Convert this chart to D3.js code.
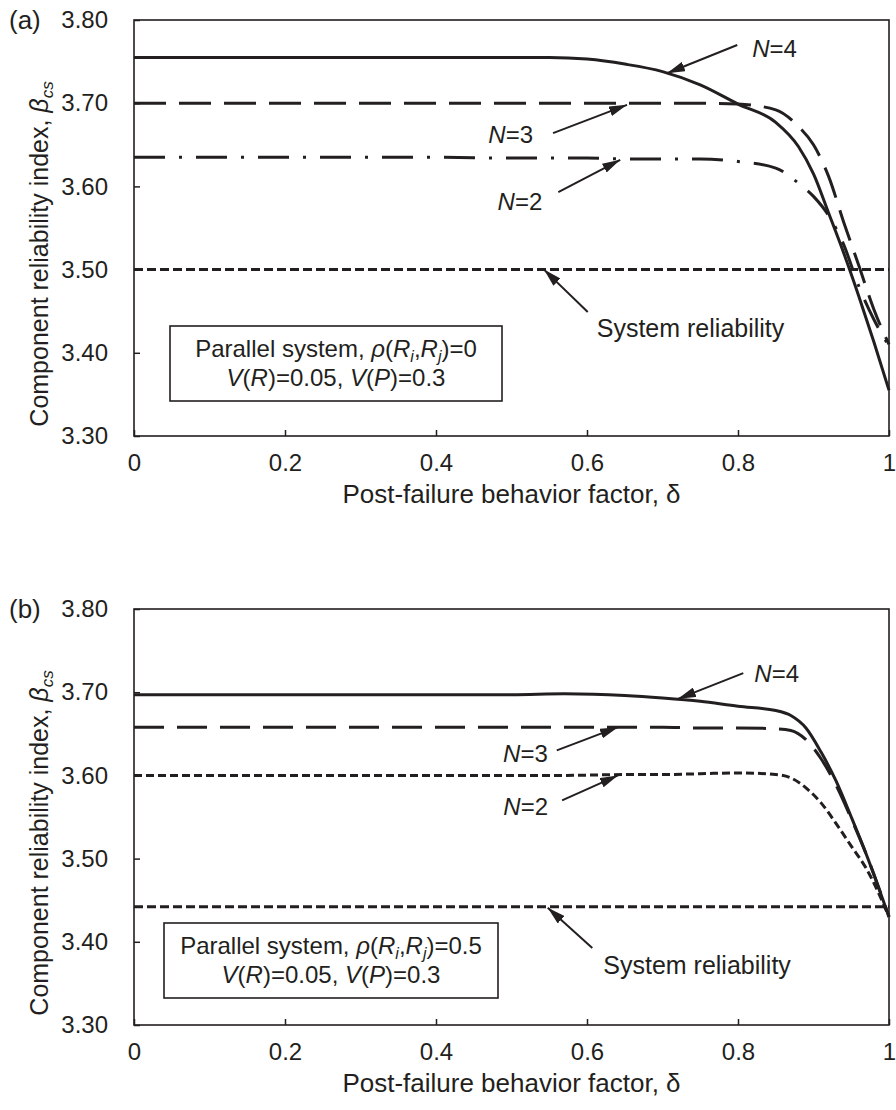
<!DOCTYPE html>
<html>
<head>
<meta charset="utf-8">
<script src="https://cdnjs.cloudflare.com/ajax/libs/d3/7.8.5/d3.min.js"></script>
<style>
    body { margin: 0; background: #fff; }
    svg text { font-family: "Liberation Sans", Arial, sans-serif; fill: #231f20; }
</style>
</head>
<body>
<div class="chart-container"></div>
<script>
// panel (a) - rho = 0
var deltaA = [0, 0.1, 0.2, 0.3, 0.4, 0.5, 0.55, 0.6, 0.65, 0.7, 0.75, 0.8, 0.85, 0.88, 0.9, 0.92, 0.94, 0.96, 0.98, 1];
var n4A = [3.755, 3.755, 3.755, 3.755, 3.755, 3.755, 3.755, 3.753, 3.747, 3.738, 3.722, 3.699, 3.677, 3.648, 3.615, 3.568, 3.52, 3.468, 3.413, 3.355];
var n3A = [3.700, 3.700, 3.700, 3.700, 3.700, 3.700, 3.700, 3.700, 3.700, 3.700, 3.700, 3.699, 3.692, 3.672, 3.650, 3.612, 3.557, 3.505, 3.452, 3.41];
var n2A = [3.635, 3.635, 3.635, 3.635, 3.635, 3.634, 3.634, 3.634, 3.633, 3.633, 3.633, 3.630, 3.622, 3.604, 3.588, 3.565, 3.53, 3.48, 3.44, 3.408];
var systemA = 3.50;

// panel (b) - rho = 0.5
var deltaB = [0, 0.1, 0.2, 0.3, 0.4, 0.5, 0.57, 0.65, 0.7, 0.75, 0.8, 0.85, 0.87, 0.89, 0.91, 0.93, 0.95, 0.97, 1];
var n4B = [3.697, 3.697, 3.697, 3.697, 3.697, 3.697, 3.698, 3.696, 3.693, 3.689, 3.683, 3.678, 3.672, 3.657, 3.628, 3.593, 3.550, 3.505, 3.43];
var n3B = [3.658, 3.658, 3.658, 3.658, 3.658, 3.658, 3.658, 3.658, 3.658, 3.657, 3.657, 3.656, 3.654, 3.643, 3.620, 3.588, 3.548, 3.505, 3.43];
var n2B = [3.600, 3.600, 3.600, 3.600, 3.600, 3.600, 3.600, 3.601, 3.601, 3.602, 3.603, 3.601, 3.597, 3.585, 3.567, 3.542, 3.515, 3.488, 3.43];
var systemB = 3.442;

var xTicks = [0, 0.2, 0.4, 0.6, 0.8, 1];
var xTickLabels = ["0", "0.2", "0.4", "0.6", "0.8", "1"];
var yTicks = [3.3, 3.4, 3.5, 3.6, 3.7, 3.8];
var yTickLabels = ["3.30", "3.40", "3.50", "3.60", "3.70", "3.80"];

var W = 896, H = 1110;
var ink = "#231f20";

var svg = d3.select(".chart-container")
        .append("svg")
        .attr("width", W)
        .attr("height", H);

svg.append("defs").append("marker")
        .attr("id", "arrow")
        .attr("viewBox", "0 0 18 10")
        .attr("refX", 18)
        .attr("refY", 5)
        .attr("markerWidth", 18)
        .attr("markerHeight", 10)
        .attr("markerUnits", "userSpaceOnUse")
        .attr("orient", "auto")
        .append("path")
        .attr("d", "M0,0 L18,5 L0,10 Z")
        .attr("fill", ink);

// italic N=.. label helper
function nLabel(sel, n) {
    sel.append("tspan").style("font-style", "italic").text("N");
    sel.append("tspan").text("=" + n);
}

function drawPanel(top, p) {
    var x = d3.scaleLinear().domain([0, 1]).range([134, 889]);
    var y = d3.scaleLinear().domain([3.3, 3.8]).range([top + 416, top]);
    var g = svg.append("g");

    // curves
    var line = d3.line()
            .x(function (d) { return x(d[0]); })
            .y(function (d) { return y(d[1]); })
            .curve(d3.curveMonotoneX);

    p.series.forEach(function (s) {
        g.append("path")
                .datum(p.delta.map(function (d, i) { return [d, s.values[i]]; }))
                .attr("d", line)
                .attr("fill", "none")
                .attr("stroke", ink)
                .attr("stroke-width", 3)
                .attr("stroke-dasharray", s.dash);
    });

    g.append("path")
            .datum([[0, p.system], [1, p.system]])
            .attr("d", line)
            .attr("fill", "none")
            .attr("stroke", ink)
            .attr("stroke-width", 3)
            .attr("stroke-dasharray", "9,4");

    // axes
    var xAxis = d3.axisBottom(x)
            .tickValues(xTicks)
            .tickFormat(function (d, i) { return xTickLabels[i]; })
            .tickSize(-6)
            .tickPadding(18);
    var gx = g.append("g")
            .attr("transform", "translate(0," + y(3.3) + ")")
            .call(xAxis);

    var yAxis = d3.axisLeft(y)
            .tickValues(yTicks)
            .tickFormat(function (d, i) { return yTickLabels[i]; })
            .tickSize(-6)
            .tickPadding(26);
    var gy = g.append("g")
            .attr("transform", "translate(" + x(0) + ",0)")
            .call(yAxis);

    [gx, gy].forEach(function (a) {
        a.select(".domain").remove();
        a.selectAll(".tick line").attr("stroke", ink).attr("stroke-width", 1.5);
        a.selectAll(".tick text")
                .attr("font-size", 24)
                .style("font-family", "'Liberation Sans', Arial, sans-serif")
                .attr("fill", ink);
    });

    g.append("rect")
            .attr("x", x(0))
            .attr("y", y(3.8))
            .attr("width", x(1) - x(0))
            .attr("height", y(3.3) - y(3.8))
            .attr("fill", "none")
            .attr("stroke", ink)
            .attr("stroke-width", 1.6);

    // titles
    g.append("text")
            .attr("x", 9)
            .attr("y", top + 9)
            .attr("font-size", 26)
            .text(p.tag);

    g.append("text")
            .attr("x", (x(0) + x(1)) / 2)
            .attr("y", top + 483)
            .attr("text-anchor", "middle")
            .attr("font-size", 26)
            .text("Post-failure behavior factor, δ");

    var yt = g.append("text")
            .attr("transform", "translate(48," + (top + 234) + ") rotate(-90)")
            .attr("text-anchor", "middle")
            .attr("font-size", 25);
    yt.append("tspan").text("Component reliability index, ");
    yt.append("tspan").style("font-style", "italic").text("β");
    yt.append("tspan").style("font-style", "italic").attr("font-size", 17).attr("dy", 5).text("cs");

    // arrows + labels
    p.notes.forEach(function (n) {
        var tx = x(n.tail[0]), ty = y(n.tail[1]);
        g.append("line")
                .attr("x1", tx).attr("y1", ty)
                .attr("x2", x(n.tip[0])).attr("y2", y(n.tip[1]))
                .attr("stroke", ink)
                .attr("stroke-width", 2)
                .attr("marker-end", "url(#arrow)");
        var t = g.append("text")
                .attr("x", tx + n.dx)
                .attr("y", ty + n.dy)
                .attr("text-anchor", n.anchor)
                .attr("font-size", n.n ? 24 : 25);
        if (n.n) {
            nLabel(t, n.n);
        } else {
            t.text(n.text);
        }
    });

    // parameter box
    var b = p.box;
    g.append("rect")
            .attr("x", b.x)
            .attr("y", top + b.y)
            .attr("width", b.w)
            .attr("height", b.h)
            .attr("fill", "#fff")
            .attr("stroke", ink)
            .attr("stroke-width", 1.6);
    var cx = b.x + b.w / 2;
    var l1 = g.append("text")
            .attr("x", cx)
            .attr("y", top + b.y + 31)
            .attr("text-anchor", "middle")
            .attr("font-size", 24);
    l1.append("tspan").text("Parallel system, ");
    l1.append("tspan").style("font-style", "italic").text("ρ");
    l1.append("tspan").text("(");
    l1.append("tspan").style("font-style", "italic").text("R");
    l1.append("tspan").style("font-style", "italic").attr("font-size", 16).attr("dy", 5).text("i");
    l1.append("tspan").attr("dy", -5).text(",");
    l1.append("tspan").style("font-style", "italic").text("R");
    l1.append("tspan").style("font-style", "italic").attr("font-size", 16).attr("dy", 5).text("j");
    l1.append("tspan").attr("dy", -5).text(")=" + p.rho);

    var l2 = g.append("text")
            .attr("x", cx)
            .attr("y", top + b.y + 60)
            .attr("text-anchor", "middle")
            .attr("font-size", 24);
    l2.append("tspan").style("font-style", "italic").text("V");
    l2.append("tspan").text("(");
    l2.append("tspan").style("font-style", "italic").text("R");
    l2.append("tspan").text(")=0.05, ");
    l2.append("tspan").style("font-style", "italic").text("V");
    l2.append("tspan").text("(");
    l2.append("tspan").style("font-style", "italic").text("P");
    l2.append("tspan").text(")=0.3");
}

drawPanel(20, {
    tag: "(a)",
    rho: "0",
    delta: deltaA,
    system: systemA,
    series: [
        {values: n4A, dash: null},
        {values: n3A, dash: "32,13"},
        {values: n2A, dash: "31,14,3,14"}
    ],
    box: {x: 170, y: 306, w: 332, h: 75},
    notes: [
        {n: 4, tail: [0.799, 3.770], tip: [0.706, 3.736], dx: 15, dy: 12, anchor: "start"},
        {n: 3, tail: [0.555, 3.664], tip: [0.653, 3.698], dx: -20, dy: 10, anchor: "end"},
        {n: 2, tail: [0.562, 3.593], tip: [0.644, 3.632], dx: -16, dy: 18, anchor: "end"},
        {text: "System reliability", tail: [0.601, 3.449], tip: [0.543, 3.50], dx: 9, dy: 25, anchor: "start"}
    ]
});

drawPanel(609, {
    tag: "(b)",
    rho: "0.5",
    delta: deltaB,
    system: systemB,
    series: [
        {values: n4B, dash: null},
        {values: n3B, dash: "30,13"},
        {values: n2B, dash: "8,4"}
    ],
    box: {x: 164, y: 314, w: 334, h: 75},
    notes: [
        {n: 4, tail: [0.807, 3.723], tip: [0.7205, 3.692], dx: 11, dy: 9, anchor: "start"},
        {n: 3, tail: [0.560, 3.630], tip: [0.641, 3.658], dx: -9, dy: 12, anchor: "end"},
        {n: 2, tail: [0.567, 3.570], tip: [0.641, 3.600], dx: -14, dy: 15, anchor: "end"},
        {text: "System reliability", tail: [0.607, 3.3925], tip: [0.548, 3.441], dx: 11, dy: 26, anchor: "start"}
    ]
});
</script>
</body>
</html>
